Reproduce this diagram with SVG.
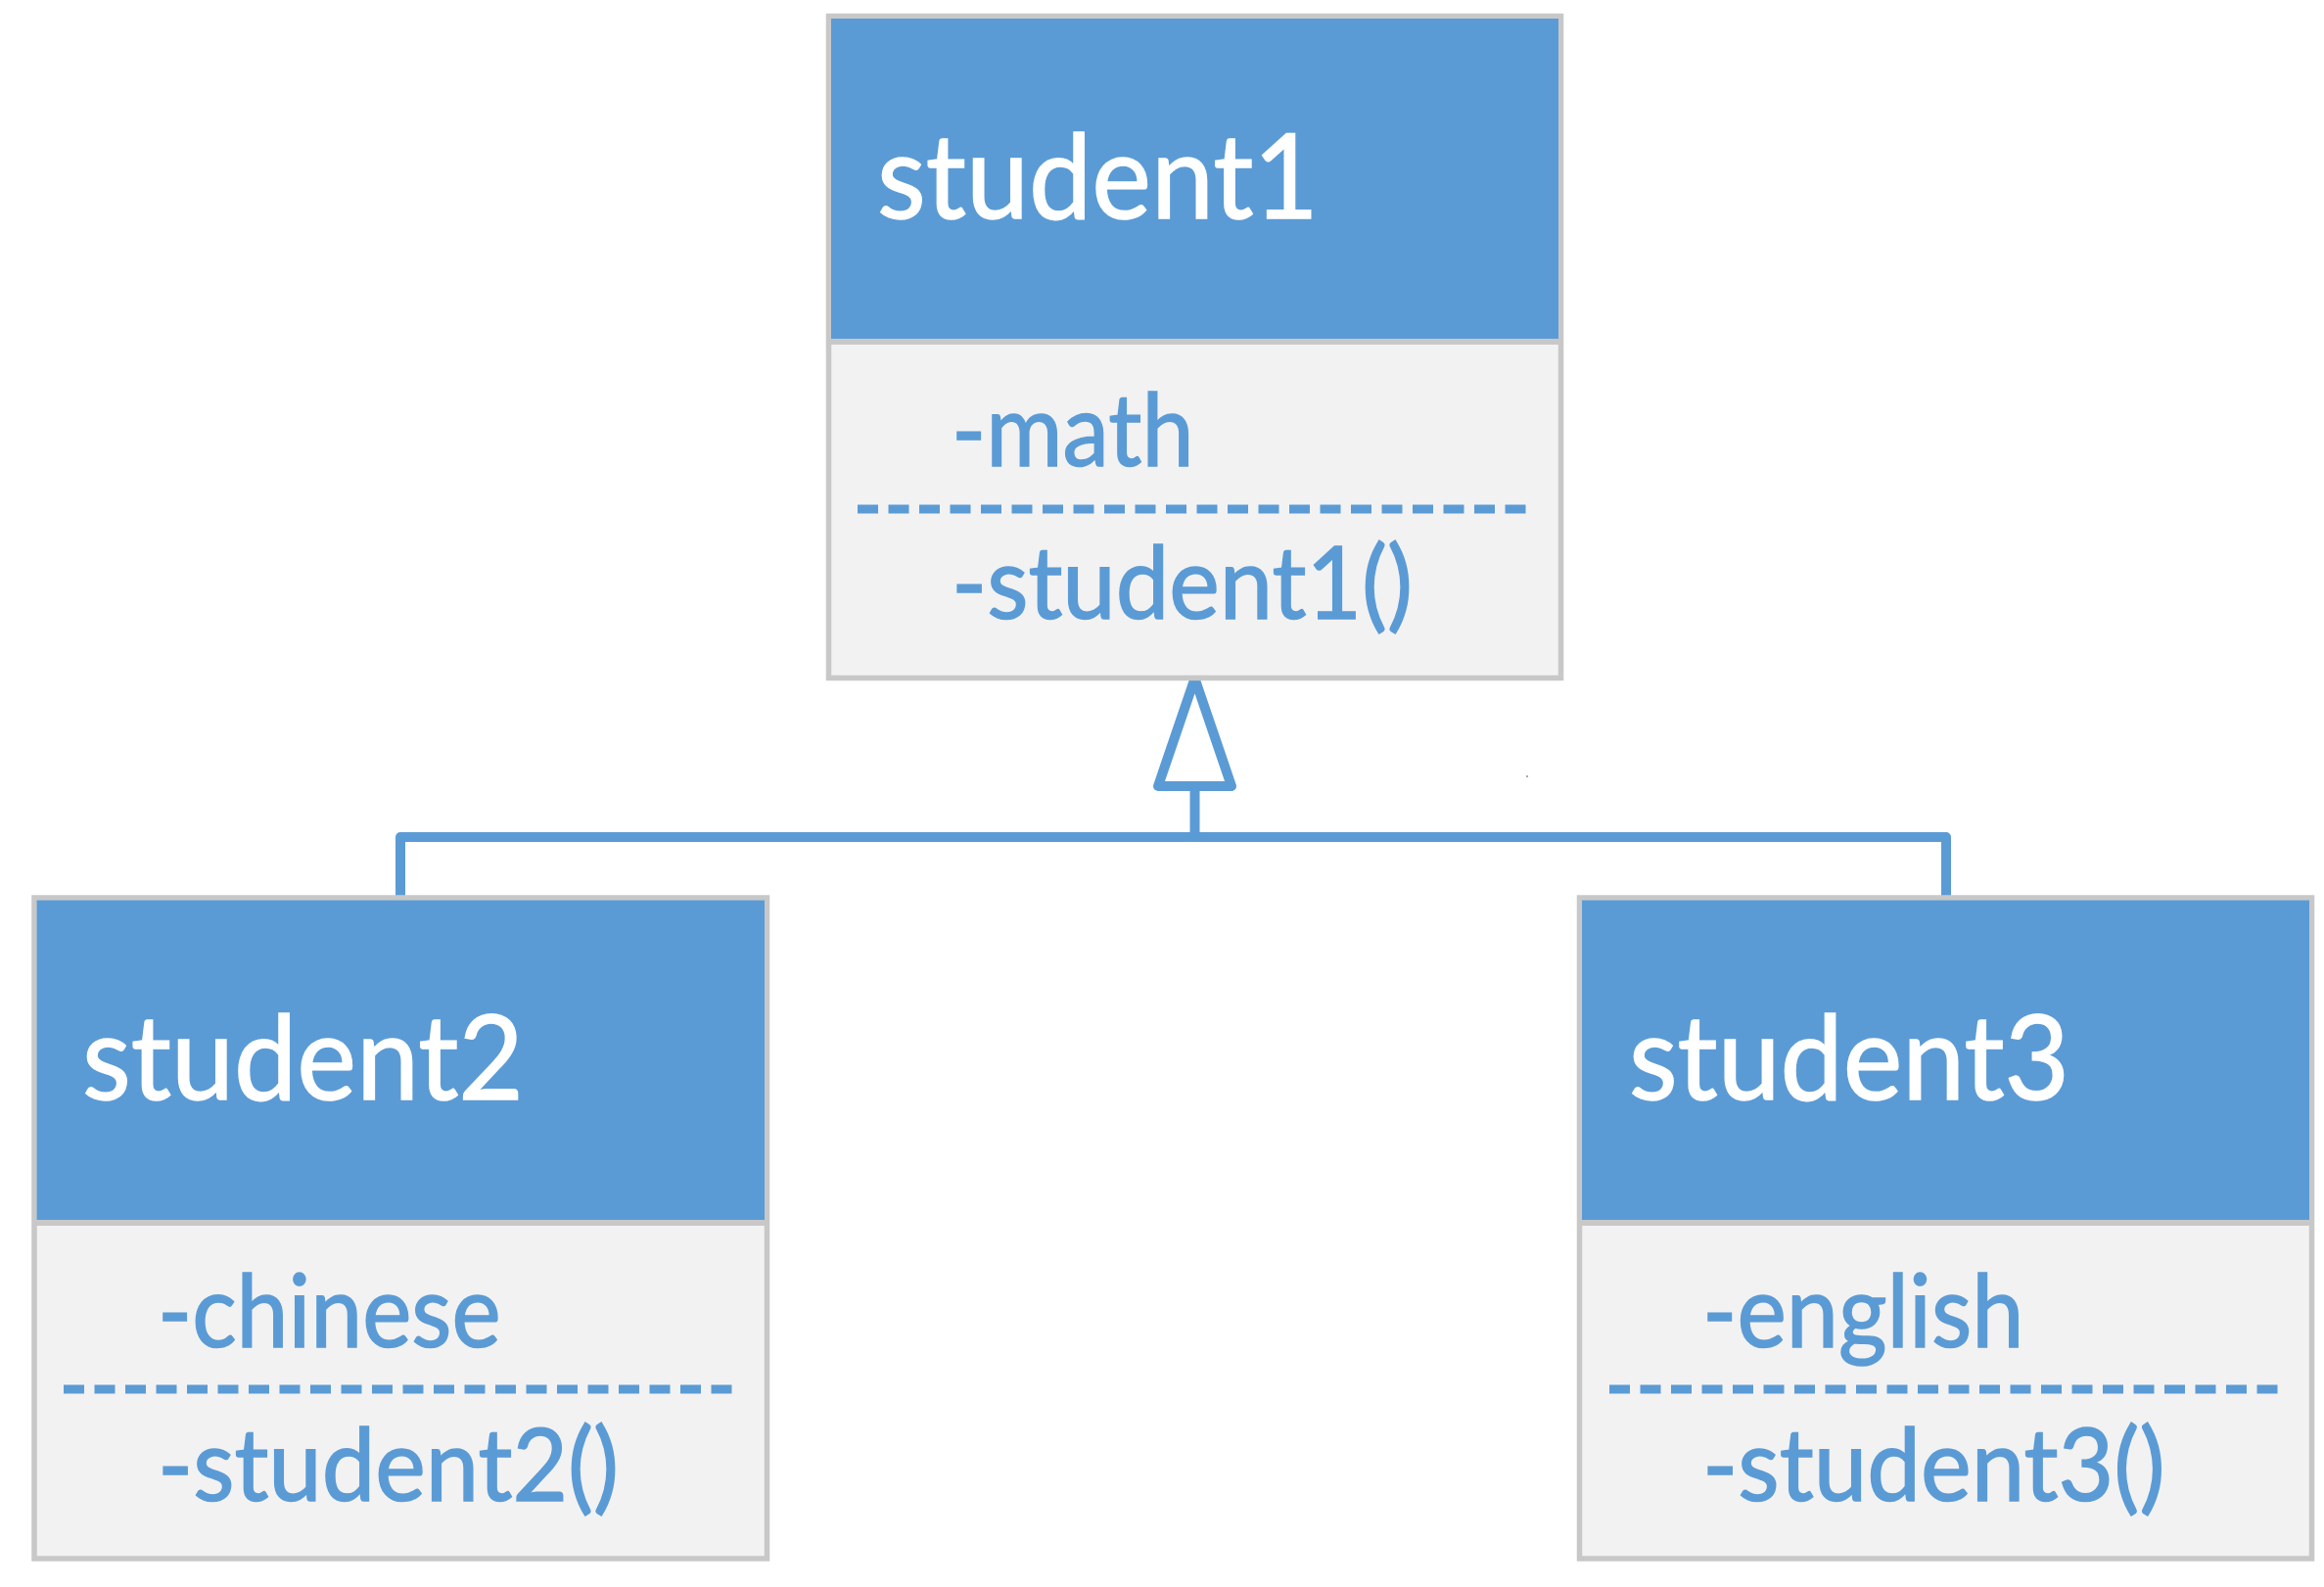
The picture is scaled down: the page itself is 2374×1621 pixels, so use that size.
<svg xmlns="http://www.w3.org/2000/svg" width="2374" height="1621" viewBox="0 0 2374 1621">
  <style>
    .box { fill: #f2f2f2; stroke: #c8c8c8; stroke-width: 5.5; }
    .head { fill: #5b9bd5; }
    .sep { stroke: #c8c8c8; stroke-width: 6; }
    .dash { stroke: #5b9bd5; stroke-width: 9; stroke-dasharray: 21 10.5; fill: none; }
    .title { font-family: "Lato", "Open Sans", "Liberation Sans", sans-serif; font-size: 120px; fill: #ffffff; stroke: #ffffff; stroke-width: 1.5; }
    .member { font-family: "Lato", "Open Sans", "Liberation Sans", sans-serif; font-size: 102px; fill: #5b9bd5; stroke: #5b9bd5; stroke-width: 1.5; }
    .conn { stroke: #5b9bd5; stroke-width: 10; fill: none; stroke-linejoin: round; stroke-linecap: butt; }
  </style>

  <rect width="2374" height="1621" fill="#ffffff"/>

  <g id="connectors">
    <path class="conn" d="M409,917 V855 H1988 V917"/>
    <path class="conn" d="M1220.5,855 V803"/>
    <path class="conn" d="M1220.5,693 L1258,803 H1183 Z" fill="#ffffff"/>
  </g>

  <g id="student1">
    <rect class="box" x="846.5" y="16.5" width="748" height="676"/>
    <rect class="head" x="849" y="19" width="743" height="330"/>
    <line class="sep" x1="846.5" y1="349" x2="1594.5" y2="349"/>
    <text class="title" x="896" y="223" textLength="451" lengthAdjust="spacingAndGlyphs">student1</text>
    <text class="member" x="972" y="476" textLength="247.5" lengthAdjust="spacingAndGlyphs">-math</text>
    <line class="dash" x1="876" y1="520" x2="1562" y2="520"/>
    <text class="member" x="972" y="632" textLength="471" lengthAdjust="spacingAndGlyphs">-student1()</text>
  </g>

  <g id="student2">
    <rect class="box" x="35" y="917" width="748.5" height="675"/>
    <rect class="head" x="37.5" y="919.5" width="743.5" height="329.5"/>
    <line class="sep" x1="35" y1="1249" x2="783.5" y2="1249"/>
    <text class="title" x="84" y="1123" textLength="451" lengthAdjust="spacingAndGlyphs">student2</text>
    <text class="member" x="161" y="1376" textLength="350.5" lengthAdjust="spacingAndGlyphs">-chinese</text>
    <line class="dash" x1="65" y1="1419" x2="752" y2="1419"/>
    <text class="member" x="161" y="1532.5" textLength="471" lengthAdjust="spacingAndGlyphs">-student2()</text>
  </g>

  <g id="student3">
    <rect class="box" x="1613.5" y="917" width="748" height="675"/>
    <rect class="head" x="1616" y="919.5" width="743" height="329.5"/>
    <line class="sep" x1="1613.5" y1="1249" x2="2361.5" y2="1249"/>
    <text class="title" x="1664" y="1123" textLength="450" lengthAdjust="spacingAndGlyphs">student3</text>
    <text class="member" x="1739" y="1376" textLength="328.5" lengthAdjust="spacingAndGlyphs">-english</text>
    <line class="dash" x1="1644" y1="1419" x2="2330" y2="1419"/>
    <text class="member" x="1739" y="1532.5" textLength="472.5" lengthAdjust="spacingAndGlyphs">-student3()</text>
  </g>

  <rect x="1559.5" y="792" width="1" height="2" fill="#555555"/>
</svg>
